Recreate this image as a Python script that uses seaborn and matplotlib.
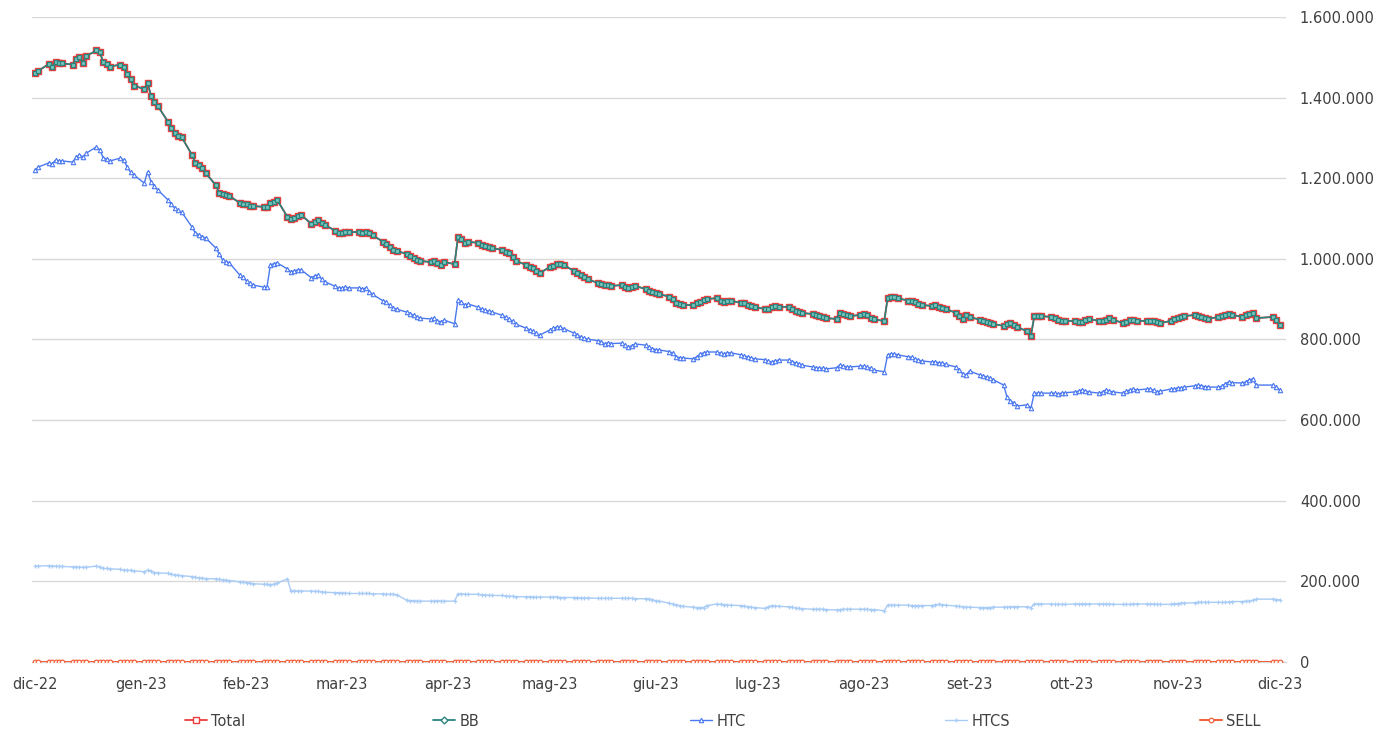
import numpy as np
import pandas as pd
import matplotlib
matplotlib.use("Agg")
import matplotlib.pyplot as plt
import seaborn as sns
from matplotlib.lines import Line2D
import matplotlib.ticker as mticker

# ---------------- data (values in thousands, one value per business day) ----------------
start_date = "2022-12-01"
end_date = "2023-12-01"
missing_days = ["2023-11-27", "2023-11-28"]

total_dec22 = [1462, 1467, 1483, 1477, 1488, 1486, 1485, 1482, 1495, 1500, 1487, 1503, 1517, 1512, 1488, 1484, 1477, 1482, 1477, 1458, 1445, 1430]
total_jan23 = [1421, 1436, 1405, 1390, 1379, 1340, 1325, 1312, 1305, 1302, 1258, 1238, 1232, 1225, 1213, 1183, 1164, 1160, 1158, 1156, 1139, 1137]
total_feb23 = [1135, 1131, 1131, 1129, 1128, 1139, 1142, 1146, 1104, 1099, 1102, 1106, 1109, 1087, 1092, 1097, 1090, 1084, 1070, 1064]
total_mar23 = [1064, 1067, 1066, 1067, 1064, 1067, 1064, 1058, 1043, 1038, 1030, 1022, 1020, 1012, 1008, 1002, 997, 995, 992, 995, 990, 985, 992]
total_apr23 = [987, 1054, 1050, 1040, 1042, 1040, 1035, 1032, 1030, 1027, 1022, 1018, 1015, 1005, 995, 985, 980, 977, 970, 965]
total_may23 = [980, 983, 987, 987, 985, 970, 965, 960, 955, 950, 940, 937, 935, 935, 933, 935, 930, 928, 930, 933, 925, 920, 918]
total_jun23 = [915, 913, 906, 900, 891, 889, 886, 885, 890, 893, 898, 900, 903, 896, 893, 896, 896, 891, 891, 886, 883, 880]
total_jul23 = [876, 876, 881, 883, 881, 881, 876, 870, 868, 866, 863, 861, 858, 856, 853, 851, 866, 863, 861, 858, 861]
total_aug23 = [863, 860, 853, 850, 846, 903, 906, 906, 903, 896, 896, 893, 888, 886, 883, 886, 881, 878, 876, 866, 858, 851, 861]
total_sep23 = [856, 849, 846, 843, 841, 838, 834, 838, 841, 836, 831, 820, 809, 858, 858, 858, 856, 853, 848, 846, 846]
total_oct23 = [846, 844, 844, 849, 851, 846, 846, 849, 853, 849, 841, 843, 849, 849, 846, 846, 846, 846, 843, 841, 846, 851]
total_nov23 = [853, 856, 858, 861, 858, 856, 853, 851, 856, 858, 861, 863, 861, 856, 861, 863, 866, 853, 856, 848]
total_dec23 = [836]

htc_dec22 = [1221, 1228, 1238, 1236, 1245, 1243, 1243, 1240, 1252, 1258, 1253, 1262, 1278, 1270, 1250, 1248, 1243, 1250, 1245, 1228, 1215, 1208]
htc_jan23 = [1188, 1216, 1191, 1180, 1171, 1146, 1135, 1126, 1120, 1116, 1079, 1064, 1060, 1055, 1052, 1027, 1012, 997, 993, 990, 960, 955]
htc_feb23 = [945, 940, 935, 930, 930, 985, 988, 990, 975, 968, 970, 973, 973, 953, 958, 960, 950, 943, 932, 928]
htc_mar23 = [928, 930, 928, 928, 925, 928, 918, 912, 896, 893, 885, 878, 875, 868, 864, 860, 856, 853, 851, 853, 846, 844, 848]
htc_apr23 = [839, 898, 893, 886, 888, 880, 875, 873, 870, 868, 860, 855, 851, 845, 838, 828, 824, 821, 815, 811]
htc_may23 = [824, 828, 831, 830, 827, 816, 812, 806, 803, 801, 797, 795, 789, 792, 790, 791, 786, 781, 785, 789, 786, 781, 777]
htc_jun23 = [775, 774, 770, 766, 757, 755, 754, 752, 757, 764, 767, 769, 769, 766, 764, 767, 767, 762, 759, 757, 754, 752]
htc_jul23 = [750, 746, 744, 747, 749, 749, 745, 742, 740, 736, 732, 730, 729, 729, 727, 730, 737, 734, 732, 732, 734]
htc_aug23 = [734, 731, 729, 724, 720, 762, 764, 764, 762, 757, 756, 752, 749, 747, 744, 745, 742, 742, 738, 732, 725, 715, 712]
htc_sep23 = [722, 712, 710, 707, 705, 700, 687, 657, 648, 643, 635, 638, 630, 667, 667, 667, 667, 667, 665, 667, 668]
htc_oct23 = [670, 672, 675, 672, 670, 667, 670, 675, 672, 670, 667, 672, 675, 677, 675, 677, 677, 674, 670, 672, 677, 677]
htc_nov23 = [680, 680, 682, 685, 687, 685, 683, 682, 682, 684, 690, 695, 693, 692, 695, 700, 702, 687, 687, 682]
htc_dec23 = [675]

htcs_dec22 = [238, 238, 239, 238, 238, 237, 237, 236, 236, 235, 235, 235, 238, 236, 232, 232, 231, 230, 228, 228, 227, 226]
htcs_jan23 = [224, 228, 226, 222, 221, 220, 218, 216, 215, 214, 212, 210, 209, 208, 207, 206, 205, 204, 203, 202, 199, 198]
htcs_feb23 = [197, 196, 194, 193, 193, 192, 193, 196, 206, 177, 177, 176, 176, 176, 175, 175, 174, 173, 172, 172]
htcs_mar23 = [171, 171, 170, 170, 170, 170, 170, 169, 169, 168, 168, 168, 167, 153, 152, 152, 151, 151, 151, 151, 152, 151, 151]
htcs_apr23 = [151, 169, 169, 168, 168, 168, 167, 166, 166, 165, 165, 164, 163, 163, 162, 162, 162, 161, 161, 161]
htcs_may23 = [161, 161, 161, 160, 160, 160, 160, 159, 159, 159, 158, 158, 158, 158, 158, 158, 158, 158, 158, 157, 157, 156, 155]
htcs_jun23 = [152, 151, 146, 144, 142, 140, 138, 136, 135, 135, 135, 140, 144, 143, 142, 141, 141, 140, 139, 137, 136, 135]
htcs_jul23 = [133, 137, 140, 139, 138, 137, 136, 134, 133, 132, 131, 131, 131, 131, 130, 129, 130, 131, 131, 131, 131]
htcs_aug23 = [131, 131, 130, 130, 127, 141, 141, 141, 141, 141, 140, 140, 140, 140, 140, 142, 143, 142, 141, 139, 138, 137, 136]
htcs_sep23 = [136, 135, 135, 135, 135, 136, 136, 136, 137, 137, 137, 137, 135, 144, 144, 144, 144, 143, 143, 143, 143]
htcs_oct23 = [144, 144, 144, 144, 144, 144, 144, 144, 144, 143, 143, 143, 143, 144, 144, 144, 144, 144, 143, 143, 143, 145]
htcs_nov23 = [145, 146, 146, 147, 148, 148, 148, 148, 148, 148, 148, 149, 150, 150, 151, 151, 153, 156, 156, 155]
htcs_dec23 = [154]

sell_value = 0

month_ticks = ["2022-12-01", "2023-01-01", "2023-02-01", "2023-03-01", "2023-04-01", "2023-05-01",
               "2023-06-01", "2023-07-01", "2023-08-01", "2023-09-01", "2023-10-01", "2023-11-01",
               "2023-12-01"]
month_labels = ["dic-22", "gen-23", "feb-23", "mar-23", "apr-23", "mag-23", "giu-23", "lug-23",
                "ago-23", "set-23", "ott-23", "nov-23", "dic-23"]
y_ticks = [0, 200000, 400000, 600000, 800000, 1000000, 1200000, 1400000, 1600000]
series_names = ["Total", "BB", "HTC", "HTCS", "SELL"]

# ---------------- assemble ----------------
total_k = (total_dec22 + total_jan23 + total_feb23 + total_mar23 + total_apr23 + total_may23 +
           total_jun23 + total_jul23 + total_aug23 + total_sep23 + total_oct23 + total_nov23 + total_dec23)
htc_k = (htc_dec22 + htc_jan23 + htc_feb23 + htc_mar23 + htc_apr23 + htc_may23 + htc_jun23 +
         htc_jul23 + htc_aug23 + htc_sep23 + htc_oct23 + htc_nov23 + htc_dec23)
htcs_k = (htcs_dec22 + htcs_jan23 + htcs_feb23 + htcs_mar23 + htcs_apr23 + htcs_may23 + htcs_jun23 +
          htcs_jul23 + htcs_aug23 + htcs_sep23 + htcs_oct23 + htcs_nov23 + htcs_dec23)

dates = pd.bdate_range(start_date, end_date)
dates = dates.drop(pd.to_datetime(missing_days))
n = min(len(dates), len(total_k), len(htc_k), len(htcs_k))
dates = dates[:n]

df = pd.DataFrame({
    "date": dates,
    "Total": np.array(total_k[:n]) * 1000,
    "BB": np.array(total_k[:n]) * 1000,
    "HTC": np.array(htc_k[:n]) * 1000,
    "HTCS": np.array(htcs_k[:n]) * 1000,
    "SELL": np.full(n, sell_value),
})

# ---------------- style ----------------
sns.set_theme(style="white")
plt.rcParams['font.family'] = ['DejaVu Sans']
text_color = "#404040"
grid_color = "#D9D9D9"

styles = {
    "Total": dict(color="#EE3B3B", marker="s", markersize=4.0, markerfacecolor="white",
                  markeredgecolor="#EE3B3B", markeredgewidth=1.0, linewidth=1.3),
    "BB": dict(color="#2A837D", marker="s", markersize=2.8, markerfacecolor="#7cc7c0",
               markeredgecolor="#2A837D", markeredgewidth=0.9, linewidth=1.2),
    "HTC": dict(color="#4A78F0", marker="^", markersize=3.2, markerfacecolor="white",
                markeredgecolor="#4A78F0", markeredgewidth=0.8, linewidth=1.0),
    "HTCS": dict(color="#A8CCF5", marker="+", markersize=3.5, markerfacecolor="#A8CCF5",
                 markeredgecolor="#A8CCF5", markeredgewidth=0.9, linewidth=1.0),
    "SELL": dict(color="#F2623C", marker="o", markersize=3.3, markerfacecolor="white",
                 markeredgecolor="#F2623C", markeredgewidth=0.9, linewidth=1.5),
}
legend_styles = {
    "Total": dict(color="#EE3B3B", marker="s", markersize=4.0, markerfacecolor="white",
                  markeredgecolor="#EE3B3B", markeredgewidth=1.0, linewidth=1.3),
    "BB": dict(color="#2A837D", marker="D", markersize=3.5, markerfacecolor="white",
               markeredgecolor="#2A837D", markeredgewidth=1.0, linewidth=1.3),
    "HTC": styles["HTC"],
    "HTCS": styles["HTCS"],
    "SELL": styles["SELL"],
}

W, H = 1391, 735
fig = plt.figure(figsize=(W / 100, H / 100), dpi=100)
ax = fig.add_axes([32 / W, (H - 662) / H, (1286 - 32) / W, (662 - 17) / H])

for name in series_names:
    sns.lineplot(data=df, x="date", y=name, ax=ax, legend=False, zorder=3, **styles[name])

ax.set_xlim(pd.Timestamp(start_date) - pd.Timedelta(days=0.9),
            pd.Timestamp(end_date) + pd.Timedelta(days=1.8))
ax.set_ylim(0, 1600000)
ax.set_yticks(y_ticks)
ax.yaxis.set_major_formatter(mticker.FuncFormatter(lambda v, p: f"{int(v):,}".replace(",", ".")))
ax.yaxis.tick_right()
ax.set_xticks(pd.to_datetime(month_ticks))
ax.set_xticklabels(month_labels)
ax.set_xlabel("")
ax.set_ylabel("")
ax.tick_params(axis="y", length=0, pad=10, labelsize=10.5, labelcolor=text_color)
ax.tick_params(axis="x", length=0, pad=11, labelsize=10.5, labelcolor=text_color)
ax.yaxis.grid(True, color=grid_color, linewidth=1.0, zorder=0)
ax.xaxis.grid(False)
for s in ["top", "left", "right"]:
    ax.spines[s].set_visible(False)
ax.spines["bottom"].set_color(grid_color)
ax.spines["bottom"].set_linewidth(1.0)

# legend entries spread evenly along the bottom
legend_x = [185, 433, 690, 945, 1200]
for name, lx in zip(series_names, legend_x):
    h = Line2D([0], [0], **legend_styles[name])
    fig.legend([h], [name], loc="center left", bbox_to_anchor=(lx / W, (H - 721) / H),
               frameon=False, borderpad=0, borderaxespad=0, handlelength=1.5,
               handletextpad=0.3, fontsize=10.5, labelcolor=text_color)

fig.savefig("out.png", dpi=100)
